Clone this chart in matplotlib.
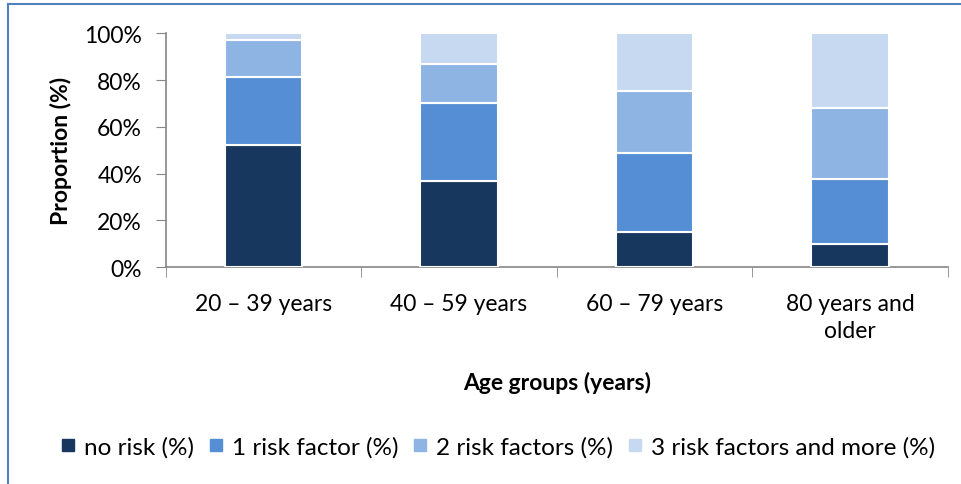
import matplotlib.pyplot as plt
from matplotlib.lines import Line2D
from matplotlib.ticker import PercentFormatter

plt.rcParams['font.family'] = ['Lato', 'DejaVu Sans']

age_groups = ["20 – 39 years", "40 – 59 years", "60 – 79 years", "80 years and\nolder"]
no_risk = [52.3, 37.0, 15.2, 10.0]
one_risk = [29.2, 33.1, 33.8, 27.8]
two_risks = [15.5, 16.8, 26.5, 30.1]
three_plus = [3.0, 13.1, 24.5, 32.1]

series = [
    ("no risk (%)", no_risk, "#17375e"),
    ("1 risk factor (%)", one_risk, "#558ed5"),
    ("2 risk factors (%)", two_risks, "#8eb4e3"),
    ("3 risk factors and more (%)", three_plus, "#c6d9f1"),
]

fs = 16.5

fig = plt.figure(figsize=(9.61, 4.85), dpi=100)
ax = fig.add_axes([0.1724, 0.4474, 0.8138, 0.4815])

x = range(len(age_groups))
bottom = [0.0] * len(age_groups)
for label, vals, color in series:
    ax.bar(x, vals, width=0.395, bottom=bottom, color=color,
           edgecolor="white", linewidth=1.5, label=label, zorder=3)
    bottom = [b + v for b, v in zip(bottom, vals)]

ax.set_xlim(-0.5, len(age_groups) - 0.5)
ax.set_ylim(0, 100)
ax.set_yticks(range(0, 101, 20))
ax.yaxis.set_major_formatter(PercentFormatter(decimals=0))
ax.set_xticks(list(x))
ax.set_xticklabels(age_groups, fontsize=fs, linespacing=1.35)
ax.tick_params(axis="y", labelsize=fs, length=7, color="#868686", pad=10)
ax.tick_params(axis="x", length=0, pad=19)
# category separators below the x axis
ax.set_xticks([i - 0.5 for i in range(len(age_groups) + 1)], minor=True)
ax.tick_params(axis="x", which="minor", length=7, color="#868686")

for side in ["top", "right"]:
    ax.spines[side].set_visible(False)
for side in ["left", "bottom"]:
    ax.spines[side].set_color("#868686")
    ax.spines[side].set_linewidth(1.2)

ax.set_ylabel("Proportion (%)", fontsize=fs, fontweight="bold", labelpad=9)
ax.set_xlabel("Age groups (years)", fontsize=fs, fontweight="bold", labelpad=21)

handles = [Line2D([], [], marker="s", linestyle="", markersize=9,
                  markerfacecolor=c, markeredgecolor=c) for _, _, c in series]
fig.legend(handles, [s[0] for s in series], loc="center", bbox_to_anchor=(0.518, 0.077),
           ncol=4, frameon=False, fontsize=17.5, handlelength=0.6, handletextpad=0.35,
           columnspacing=0.6)

# outline of the chart area (top and left edges)
fig.add_artist(Line2D([0.0083, 1.0], [0.9897, 0.9897], color="#4f81bd", lw=1.5))
fig.add_artist(Line2D([0.0083, 0.0083], [0.0, 0.9897], color="#4f81bd", lw=1.5))

fig.savefig("out.png", dpi=100)
